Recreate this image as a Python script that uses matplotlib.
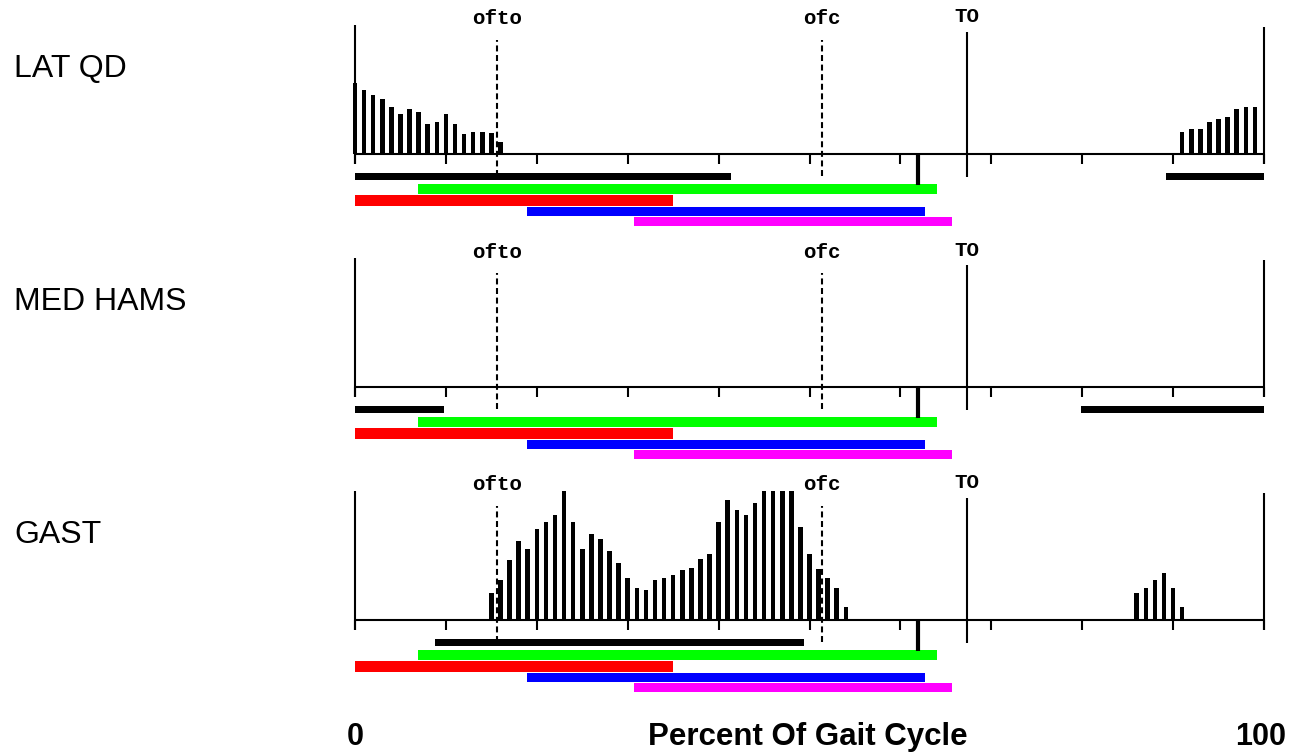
import matplotlib
matplotlib.use("Agg")
import matplotlib.pyplot as plt

plt.rcParams['lines.scale_dashes'] = False

# muscles shown, top to bottom
muscles = ["LAT QD", "MED HAMS", "GAST"]

# EMG amplitude bars, one per percent of the gait cycle (heights in px)
lat_qd_x = [0, 1, 2, 3, 4, 5, 6, 7, 8, 9, 10, 11, 12, 13, 14, 15, 16,
            91, 92, 93, 94, 95, 96, 97, 98, 99]
lat_qd_h = [71, 64, 59, 55, 47, 40, 45, 42, 30, 32, 40, 30, 20, 22, 22, 21, 12,
            22, 25, 25, 32, 35, 37, 45, 47, 47]
med_hams_x = []
med_hams_h = []
gast_x = [15, 16, 17, 18, 19, 20, 21, 22, 23, 24, 25, 26, 27, 28, 29, 30, 31,
          32, 33, 34, 35, 36, 37, 38, 39, 40, 41, 42, 43, 44, 45, 46, 47, 48,
          49, 50, 51, 52, 53, 54,
          86, 87, 88, 89, 90, 91]
gast_h = [27, 40, 60, 79, 71, 91, 98, 105, 129, 98, 71, 86, 81, 69, 57, 42, 32,
          30, 40, 42, 45, 50, 52, 61, 66, 98, 120, 110, 105, 117, 129, 129, 129,
          129, 93, 66, 51, 42, 32, 13,
          27, 32, 40, 47, 32, 13]

# black "on" periods for each muscle (start %, end %)
lat_qd_on = [(0, 41.4), (89.2, 100)]
med_hams_on = [(0, 9.8), (79.9, 100)]
gast_on = [(8.8, 49.4)]

# normal reference activity bars, same under each muscle
ref_start = [6.9, 0.0, 18.9, 30.7]
ref_end = [64.0, 35.0, 62.7, 65.7]
ref_colors = ['#00ff00', '#ff0000', '#0000ff', '#ff00ff']

# gait events (% of cycle)
ofto = 15.6
ofc = 51.4
toe_off = 67.3
foot_mark = 61.9

emg_x = [lat_qd_x, med_hams_x, gast_x]
emg_h = [lat_qd_h, med_hams_h, gast_h]
on_bars = [lat_qd_on, med_hams_on, gast_on]

W, H = 1293, 756
X0, PX = 355, 9.09  # pixel of 0 %, pixels per percent
baselines = [154, 387, 620]

fig = plt.figure(figsize=(W / 100, H / 100), dpi=100)

ref_y = [-35, -46.5, -57.5, -67.5]
ref_h = [10, 11, 9, 9]

for k, name in enumerate(muscles):
    base = baselines[k]
    top, bot = base - 150, base + 85
    ax = fig.add_axes([0, 1 - bot / H, 1, (bot - top) / H])
    ax.set_xlim(-X0 / PX, (W - X0) / PX)
    ax.set_ylim(-85, 150)
    ax.axis('off')

    # emg bars
    ax.bar(emg_x[k], emg_h[k], width=0.5, color='black', linewidth=0)

    # axes frame
    ax.plot([0, 100], [0, 0], color='black', lw=1.5, solid_capstyle='butt')
    ax.plot([0, 0], [-10, 129], color='black', lw=1.5, solid_capstyle='butt')
    ax.plot([100, 100], [-10, 127], color='black', lw=1.5, solid_capstyle='butt')
    ax.vlines(range(0, 101, 10), -10, 0, color='black', lw=1.5)
    ax.vlines(foot_mark, -31, 0, color='black', lw=3)

    # events
    ax.vlines(toe_off, -23, 122, color='black', lw=1.5)
    for ev in (ofto, ofc):
        ax.plot([ev, ev], [-22, 114], color='black', lw=1.5,
                linestyle=(0, (4.3, 2.6)))

    ax.text(ofto, 135, "ofto", ha='center', va='center',
            family='Liberation Mono', weight='bold', fontsize=15)
    ax.text(ofc, 135, "ofc", ha='center', va='center',
            family='Liberation Mono', weight='bold', fontsize=15)
    ax.text(toe_off, 137, "TO", ha='center', va='center',
            family='Liberation Mono', weight='bold', fontsize=15)

    # muscle name
    ax.text((14 - X0) / PX, 85, name, ha='left', va='center',
            family='Liberation Sans', fontsize=23)

    # on periods
    for s, e in on_bars[k]:
        ax.barh(-22.5, e - s, left=s, height=7, color='black', linewidth=0)

    # reference bars
    for s, e, c, y, h in zip(ref_start, ref_end, ref_colors, ref_y, ref_h):
        ax.barh(y, e - s, left=s, height=h, color=c, linewidth=0)

# bottom axis labels
ax.text(0, -117, "0", ha='center', va='center',
        family='Liberation Sans', weight='bold', fontsize=22)
ax.text(99.6, -117, "100", ha='center', va='center',
        family='Liberation Sans', weight='bold', fontsize=22)
ax.text(49.8, -117, "Percent Of Gait Cycle", ha='center', va='center',
        family='Liberation Sans', weight='bold', fontsize=22.5)

fig.savefig("out.png", dpi=100)
